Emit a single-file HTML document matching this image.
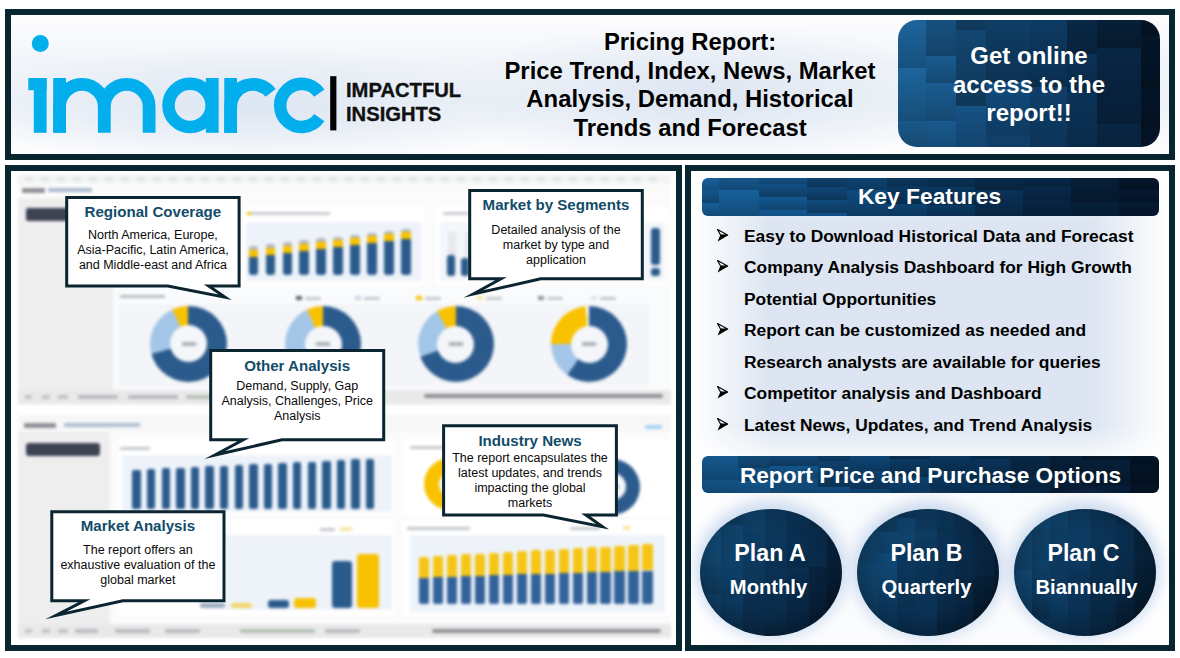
<!DOCTYPE html>
<html><head><meta charset="utf-8">
<style>

*{margin:0;padding:0;box-sizing:border-box}
html,body{width:1180px;height:658px;overflow:hidden;background:#fff;font-family:"Liberation Sans",sans-serif}
.abs{position:absolute}
.frame{position:absolute;border:6px solid #08262f}
#hdr{left:5px;top:9px;width:1170px;height:151px;background:radial-gradient(ellipse 300px 60px at 240px 92px,rgba(214,225,240,0.75),rgba(255,255,255,0)),radial-gradient(ellipse 260px 75px at 690px 82px,rgba(214,224,240,0.7),rgba(255,255,255,0)),linear-gradient(to bottom,#fdfdfe 0%,#f1f4f9 35%,#eff3f8 65%,#fdfdfe 100%)}
#lp{left:5px;top:165px;width:677px;height:486px;background:#fff;overflow:hidden}
#rp{left:685px;top:165px;width:490px;height:486px;background:linear-gradient(to right,#fff 0px,rgba(255,255,255,0) 80px,rgba(255,255,255,0) 400px,#fff 478px),linear-gradient(to bottom,#fff 0px,rgba(255,255,255,0) 50px,rgba(255,255,255,0) 255px,rgba(255,255,255,0.85) 290px,rgba(255,255,255,0.9) 474px),#dce5f1}
.title{position:absolute;left:479px;width:422px;text-align:center;font-weight:bold;font-size:23.85px;color:#000;line-height:28.8px}
.btn{position:absolute;border-radius:19px;overflow:hidden}
.btntxt{position:absolute;left:0;right:0;text-align:center;color:#fff;font-weight:bold}
.bar{position:absolute;border-radius:6px;overflow:hidden}
.kf{position:absolute;left:744px;font-weight:bold;font-size:17.4px;color:#000;white-space:nowrap}
.arr{position:absolute;left:717px;width:12px;height:13px}
.plan{position:absolute;border-radius:50%;overflow:hidden;width:142px;height:127px;top:508.5px;box-shadow:0 -3px 14px 5px rgba(175,198,230,0.6)}
.co{position:absolute;border:3px solid #0b2530;background:#fff;text-align:center}
.co h3{font-size:14.9px;color:#1a5673;font-weight:bold;white-space:nowrap}
.co p{font-size:12.4px;color:#111;line-height:15px;white-space:nowrap}
.cot{position:absolute;text-align:center;font-weight:bold;font-size:15.1px;line-height:18px;color:#124c69;white-space:nowrap}
.cob{position:absolute;text-align:center;font-size:12.5px;line-height:15px;color:#0a0a0a;white-space:nowrap}

</style></head><body>


<div id="hdr" class="frame"></div>
<div id="lp" class="frame"></div>
<div id="rp" class="frame"></div>

<svg class="abs" style="left:0;top:0" width="1180" height="160" viewBox="0 0 1180 160">
<g fill="#02aeec">
<circle cx="40.3" cy="43.5" r="8.5"/>
<rect x="28.3" y="78" width="18.3" height="12.2"/>
<rect x="33.8" y="78" width="12.8" height="54.8"/>
<rect x="53.2" y="78" width="12.8" height="54.8"/>
<rect x="205.9" y="78" width="12.7" height="54.8"/>
<rect x="224.3" y="78" width="12.7" height="54.8"/>
</g>
<g fill="none" stroke="#02aeec" stroke-width="12.8">
<path d="M59.6,132.8 V106.7 A22.35,22.35 0 0 1 104.3,106.7 V132.8"/>
<path d="M104.3,106.7 A22.35,22.35 0 0 1 149.1,106.7 V132.8"/>
<path d="M230.65,132.8 V106.7 A22.35,22.35 0 0 1 270.6,92.9"/>
</g>
<g fill="none" stroke="#02aeec" stroke-width="12.5">
<circle cx="190.1" cy="105.4" r="21.6"/>
<path d="M319.3,93.1 A21.5,21.5 0 1 0 319.3,117.7"/>
</g>
<rect x="330.2" y="76.2" width="6.2" height="54.2" fill="#000"/>
</svg>
<div class="abs" style="left:346px;top:79px;font-weight:bold;font-size:20.2px;line-height:23.5px;color:#111;letter-spacing:0px;-webkit-text-stroke:0.35px #111">IMPACTFUL<br>INSIGHTS</div>
<div class="title" style="top:27.8px">Pricing Report:<br>Price Trend, Index, News, Market<br>Analysis, Demand, Historical<br>Trends and Forecast</div>
<div class="btn" style="left:898px;top:20px;width:262px;height:127px" id="btn1"><svg class="abs" style="left:0;top:0" width="262" height="127" shape-rendering="crispEdges"><defs><linearGradient id="tg1" x1="0" y1="0" x2="0" y2="1"><stop offset="0" stop-color="#000" stop-opacity="0"/><stop offset="1" stop-color="#000" stop-opacity="0.22"/></linearGradient><radialGradient id="rg1" cx="0.5" cy="0.5" r="0.5"><stop offset="0.6" stop-color="#000" stop-opacity="0"/><stop offset="1" stop-color="#000" stop-opacity="0.00"/></radialGradient></defs><rect x="-2.0" y="-5.0" width="30.0" height="53.0" fill="#1e669f"/><rect x="-2.0" y="-5.0" width="30.0" height="53.0" fill="url(#tg1)"/><rect x="-2.0" y="48.0" width="30.0" height="53.0" fill="#1d649b"/><rect x="-2.0" y="48.0" width="30.0" height="53.0" fill="url(#tg1)"/><rect x="-2.0" y="101.0" width="30.0" height="38.0" fill="#1a5787"/><rect x="-2.0" y="101.0" width="30.0" height="38.0" fill="url(#tg1)"/><rect x="28.0" y="-17.0" width="30.0" height="53.0" fill="#185688"/><rect x="28.0" y="-17.0" width="30.0" height="53.0" fill="url(#tg1)"/><rect x="28.0" y="36.0" width="30.0" height="27.0" fill="#1a5c91"/><rect x="28.0" y="36.0" width="30.0" height="27.0" fill="url(#tg1)"/><rect x="28.0" y="63.0" width="30.0" height="38.0" fill="#1a5c92"/><rect x="28.0" y="63.0" width="30.0" height="38.0" fill="url(#tg1)"/><rect x="28.0" y="101.0" width="30.0" height="38.0" fill="#19598e"/><rect x="28.0" y="101.0" width="30.0" height="38.0" fill="url(#tg1)"/><rect x="58.0" y="-17.0" width="30.0" height="27.0" fill="#134671"/><rect x="58.0" y="-17.0" width="30.0" height="27.0" fill="url(#tg1)"/><rect x="58.0" y="10.0" width="30.0" height="76.0" fill="#134670"/><rect x="58.0" y="10.0" width="30.0" height="76.0" fill="url(#tg1)"/><rect x="58.0" y="86.0" width="30.0" height="53.0" fill="#165285"/><rect x="58.0" y="86.0" width="30.0" height="53.0" fill="url(#tg1)"/><rect x="88.0" y="-14.0" width="44.0" height="76.0" fill="#0f4069"/><rect x="88.0" y="-14.0" width="44.0" height="76.0" fill="url(#tg1)"/><rect x="88.0" y="62.0" width="44.0" height="53.0" fill="#124b7d"/><rect x="88.0" y="62.0" width="44.0" height="53.0" fill="url(#tg1)"/><rect x="88.0" y="115.0" width="44.0" height="76.0" fill="#10406a"/><rect x="88.0" y="115.0" width="44.0" height="76.0" fill="url(#tg1)"/><rect x="132.0" y="-13.0" width="37.0" height="53.0" fill="#0e3e6a"/><rect x="132.0" y="-13.0" width="37.0" height="53.0" fill="url(#tg1)"/><rect x="132.0" y="40.0" width="37.0" height="27.0" fill="#0c375e"/><rect x="132.0" y="40.0" width="37.0" height="27.0" fill="url(#tg1)"/><rect x="132.0" y="67.0" width="37.0" height="76.0" fill="#0e3e69"/><rect x="132.0" y="67.0" width="37.0" height="76.0" fill="url(#tg1)"/><rect x="169.0" y="-4.0" width="30.0" height="38.0" fill="#092a48"/><rect x="169.0" y="-4.0" width="30.0" height="38.0" fill="url(#tg1)"/><rect x="169.0" y="34.0" width="30.0" height="38.0" fill="#0b3257"/><rect x="169.0" y="34.0" width="30.0" height="38.0" fill="url(#tg1)"/><rect x="169.0" y="72.0" width="30.0" height="76.0" fill="#0b3358"/><rect x="169.0" y="72.0" width="30.0" height="76.0" fill="url(#tg1)"/><rect x="199.0" y="-10.0" width="44.0" height="38.0" fill="#07213b"/><rect x="199.0" y="-10.0" width="44.0" height="38.0" fill="url(#tg1)"/><rect x="199.0" y="28.0" width="44.0" height="76.0" fill="#082645"/><rect x="199.0" y="28.0" width="44.0" height="76.0" fill="url(#tg1)"/><rect x="199.0" y="104.0" width="44.0" height="53.0" fill="#082543"/><rect x="199.0" y="104.0" width="44.0" height="53.0" fill="url(#tg1)"/><rect x="243.0" y="-11.0" width="44.0" height="27.0" fill="#04162a"/><rect x="243.0" y="-11.0" width="44.0" height="27.0" fill="url(#tg1)"/><rect x="243.0" y="16.0" width="44.0" height="53.0" fill="#041629"/><rect x="243.0" y="16.0" width="44.0" height="53.0" fill="url(#tg1)"/><rect x="243.0" y="69.0" width="44.0" height="38.0" fill="#041529"/><rect x="243.0" y="69.0" width="44.0" height="38.0" fill="url(#tg1)"/><rect x="243.0" y="107.0" width="44.0" height="38.0" fill="#041426"/><rect x="243.0" y="107.0" width="44.0" height="38.0" fill="url(#tg1)"/></svg></div>
<div class="btntxt" style="left:898px;width:262px;top:42px;font-size:24px;line-height:28.7px">Get online<br>access to the<br>report!!</div>


<div class="bar" style="left:702px;top:178px;width:457px;height:38px"><svg class="abs" style="left:0;top:0" width="457" height="38" shape-rendering="crispEdges"><defs><linearGradient id="tg2" x1="0" y1="0" x2="0" y2="1"><stop offset="0" stop-color="#000" stop-opacity="0"/><stop offset="1" stop-color="#000" stop-opacity="0.22"/></linearGradient><radialGradient id="rg2" cx="0.5" cy="0.5" r="0.5"><stop offset="0.6" stop-color="#000" stop-opacity="0"/><stop offset="1" stop-color="#000" stop-opacity="0.00"/></radialGradient></defs><rect x="-15.0" y="-1.0" width="32.0" height="13.0" fill="#1863a0"/><rect x="-15.0" y="-1.0" width="32.0" height="13.0" fill="url(#tg2)"/><rect x="-15.0" y="12.0" width="32.0" height="13.0" fill="#15568b"/><rect x="-15.0" y="12.0" width="32.0" height="13.0" fill="url(#tg2)"/><rect x="-15.0" y="25.0" width="32.0" height="13.0" fill="#175e98"/><rect x="-15.0" y="25.0" width="32.0" height="13.0" fill="url(#tg2)"/><rect x="17.0" y="-6.0" width="40.0" height="18.0" fill="#165d96"/><rect x="17.0" y="-6.0" width="40.0" height="18.0" fill="url(#tg2)"/><rect x="17.0" y="12.0" width="40.0" height="26.0" fill="#16609b"/><rect x="17.0" y="12.0" width="40.0" height="26.0" fill="url(#tg2)"/><rect x="57.0" y="-3.0" width="48.0" height="9.0" fill="#13578f"/><rect x="57.0" y="-3.0" width="48.0" height="9.0" fill="url(#tg2)"/><rect x="57.0" y="6.0" width="48.0" height="13.0" fill="#124f82"/><rect x="57.0" y="6.0" width="48.0" height="13.0" fill="url(#tg2)"/><rect x="57.0" y="19.0" width="48.0" height="13.0" fill="#135890"/><rect x="57.0" y="19.0" width="48.0" height="13.0" fill="url(#tg2)"/><rect x="57.0" y="32.0" width="48.0" height="18.0" fill="#13578f"/><rect x="57.0" y="32.0" width="48.0" height="18.0" fill="url(#tg2)"/><rect x="105.0" y="-4.0" width="40.0" height="13.0" fill="#0e4572"/><rect x="105.0" y="-4.0" width="40.0" height="13.0" fill="url(#tg2)"/><rect x="105.0" y="9.0" width="40.0" height="13.0" fill="#0f4675"/><rect x="105.0" y="9.0" width="40.0" height="13.0" fill="url(#tg2)"/><rect x="105.0" y="22.0" width="40.0" height="13.0" fill="#0f4a7a"/><rect x="105.0" y="22.0" width="40.0" height="13.0" fill="url(#tg2)"/><rect x="105.0" y="35.0" width="40.0" height="13.0" fill="#115288"/><rect x="105.0" y="35.0" width="40.0" height="13.0" fill="url(#tg2)"/><rect x="145.0" y="-6.0" width="40.0" height="18.0" fill="#0e4879"/><rect x="145.0" y="-6.0" width="40.0" height="18.0" fill="url(#tg2)"/><rect x="145.0" y="12.0" width="40.0" height="26.0" fill="#0f4a7c"/><rect x="145.0" y="12.0" width="40.0" height="26.0" fill="url(#tg2)"/><rect x="185.0" y="-5.0" width="40.0" height="13.0" fill="#0b3b65"/><rect x="185.0" y="-5.0" width="40.0" height="13.0" fill="url(#tg2)"/><rect x="185.0" y="8.0" width="40.0" height="18.0" fill="#0a3860"/><rect x="185.0" y="8.0" width="40.0" height="18.0" fill="url(#tg2)"/><rect x="185.0" y="26.0" width="40.0" height="18.0" fill="#0c416e"/><rect x="185.0" y="26.0" width="40.0" height="18.0" fill="url(#tg2)"/><rect x="225.0" y="-4.0" width="48.0" height="13.0" fill="#09365e"/><rect x="225.0" y="-4.0" width="48.0" height="13.0" fill="url(#tg2)"/><rect x="225.0" y="9.0" width="48.0" height="18.0" fill="#09375f"/><rect x="225.0" y="9.0" width="48.0" height="18.0" fill="url(#tg2)"/><rect x="225.0" y="27.0" width="48.0" height="13.0" fill="#0a3962"/><rect x="225.0" y="27.0" width="48.0" height="13.0" fill="url(#tg2)"/><rect x="273.0" y="-6.0" width="48.0" height="18.0" fill="#082d4f"/><rect x="273.0" y="-6.0" width="48.0" height="18.0" fill="url(#tg2)"/><rect x="273.0" y="12.0" width="48.0" height="26.0" fill="#093156"/><rect x="273.0" y="12.0" width="48.0" height="26.0" fill="url(#tg2)"/><rect x="321.0" y="-4.0" width="48.0" height="13.0" fill="#072a4b"/><rect x="321.0" y="-4.0" width="48.0" height="13.0" fill="url(#tg2)"/><rect x="321.0" y="9.0" width="48.0" height="13.0" fill="#082a4c"/><rect x="321.0" y="9.0" width="48.0" height="13.0" fill="url(#tg2)"/><rect x="321.0" y="22.0" width="48.0" height="26.0" fill="#072442"/><rect x="321.0" y="22.0" width="48.0" height="26.0" fill="url(#tg2)"/><rect x="369.0" y="-2.0" width="48.0" height="26.0" fill="#061f3a"/><rect x="369.0" y="-2.0" width="48.0" height="26.0" fill="url(#tg2)"/><rect x="369.0" y="24.0" width="48.0" height="26.0" fill="#06203b"/><rect x="369.0" y="24.0" width="48.0" height="26.0" fill="url(#tg2)"/><rect x="417.0" y="-2.0" width="48.0" height="13.0" fill="#04172c"/><rect x="417.0" y="-2.0" width="48.0" height="13.0" fill="url(#tg2)"/><rect x="417.0" y="11.0" width="48.0" height="13.0" fill="#051931"/><rect x="417.0" y="11.0" width="48.0" height="13.0" fill="url(#tg2)"/><rect x="417.0" y="24.0" width="48.0" height="26.0" fill="#051930"/><rect x="417.0" y="24.0" width="48.0" height="26.0" fill="url(#tg2)"/></svg></div>
<div class="btntxt" style="left:701px;width:457px;top:181px;font-size:22.8px;line-height:30px">Key Features</div>
<svg class="arr" style="top:229px" viewBox="0 0 12 13"><path d="M0.6,0.6 L11,6.3 L3.4,5.8 Z" fill="none" stroke="#000" stroke-width="1.1" stroke-linejoin="miter"/><path d="M3.4,5.8 L11.3,6.3 L0.6,12.5 Z" fill="#000"/></svg>
<div class="kf" style="top:226px">Easy to Download Historical Data and Forecast</div>
<svg class="arr" style="top:260px" viewBox="0 0 12 13"><path d="M0.6,0.6 L11,6.3 L3.4,5.8 Z" fill="none" stroke="#000" stroke-width="1.1" stroke-linejoin="miter"/><path d="M3.4,5.8 L11.3,6.3 L0.6,12.5 Z" fill="#000"/></svg>
<div class="kf" style="top:257px">Company Analysis Dashboard for High Growth</div>
<div class="kf" style="top:289px">Potential Opportunities</div>
<svg class="arr" style="top:323px" viewBox="0 0 12 13"><path d="M0.6,0.6 L11,6.3 L3.4,5.8 Z" fill="none" stroke="#000" stroke-width="1.1" stroke-linejoin="miter"/><path d="M3.4,5.8 L11.3,6.3 L0.6,12.5 Z" fill="#000"/></svg>
<div class="kf" style="top:320px">Report can be customized as needed and</div>
<div class="kf" style="top:352px">Research analysts are available for queries</div>
<svg class="arr" style="top:386px" viewBox="0 0 12 13"><path d="M0.6,0.6 L11,6.3 L3.4,5.8 Z" fill="none" stroke="#000" stroke-width="1.1" stroke-linejoin="miter"/><path d="M3.4,5.8 L11.3,6.3 L0.6,12.5 Z" fill="#000"/></svg>
<div class="kf" style="top:383px">Competitor analysis and Dashboard</div>
<svg class="arr" style="top:418px" viewBox="0 0 12 13"><path d="M0.6,0.6 L11,6.3 L3.4,5.8 Z" fill="none" stroke="#000" stroke-width="1.1" stroke-linejoin="miter"/><path d="M3.4,5.8 L11.3,6.3 L0.6,12.5 Z" fill="#000"/></svg>
<div class="kf" style="top:415px">Latest News, Updates, and Trend Analysis</div>
<div class="bar" style="left:702px;top:456px;width:457px;height:37px"><svg class="abs" style="left:0;top:0" width="457" height="37" shape-rendering="crispEdges"><defs><linearGradient id="tg3" x1="0" y1="0" x2="0" y2="1"><stop offset="0" stop-color="#000" stop-opacity="0"/><stop offset="1" stop-color="#000" stop-opacity="0.22"/></linearGradient><radialGradient id="rg3" cx="0.5" cy="0.5" r="0.5"><stop offset="0.6" stop-color="#000" stop-opacity="0"/><stop offset="1" stop-color="#000" stop-opacity="0.00"/></radialGradient></defs><rect x="-4.0" y="-2.0" width="40.0" height="26.0" fill="#155990"/><rect x="-4.0" y="-2.0" width="40.0" height="26.0" fill="url(#tg3)"/><rect x="-4.0" y="24.0" width="40.0" height="26.0" fill="#135082"/><rect x="-4.0" y="24.0" width="40.0" height="26.0" fill="url(#tg3)"/><rect x="36.0" y="-6.0" width="32.0" height="18.0" fill="#124f81"/><rect x="36.0" y="-6.0" width="32.0" height="18.0" fill="url(#tg3)"/><rect x="36.0" y="12.0" width="32.0" height="13.0" fill="#124e7f"/><rect x="36.0" y="12.0" width="32.0" height="13.0" fill="url(#tg3)"/><rect x="36.0" y="25.0" width="32.0" height="18.0" fill="#13558a"/><rect x="36.0" y="25.0" width="32.0" height="18.0" fill="url(#tg3)"/><rect x="68.0" y="-3.0" width="48.0" height="13.0" fill="#104978"/><rect x="68.0" y="-3.0" width="48.0" height="13.0" fill="url(#tg3)"/><rect x="68.0" y="10.0" width="48.0" height="13.0" fill="#13558c"/><rect x="68.0" y="10.0" width="48.0" height="13.0" fill="url(#tg3)"/><rect x="68.0" y="23.0" width="48.0" height="26.0" fill="#114c7d"/><rect x="68.0" y="23.0" width="48.0" height="26.0" fill="url(#tg3)"/><rect x="116.0" y="-4.0" width="32.0" height="9.0" fill="#0e426e"/><rect x="116.0" y="-4.0" width="32.0" height="9.0" fill="url(#tg3)"/><rect x="116.0" y="5.0" width="32.0" height="26.0" fill="#0d406b"/><rect x="116.0" y="5.0" width="32.0" height="26.0" fill="url(#tg3)"/><rect x="116.0" y="31.0" width="32.0" height="9.0" fill="#104e82"/><rect x="116.0" y="31.0" width="32.0" height="9.0" fill="url(#tg3)"/><rect x="148.0" y="-3.0" width="40.0" height="18.0" fill="#0e4677"/><rect x="148.0" y="-3.0" width="40.0" height="18.0" fill="url(#tg3)"/><rect x="148.0" y="15.0" width="40.0" height="18.0" fill="#0d416e"/><rect x="148.0" y="15.0" width="40.0" height="18.0" fill="url(#tg3)"/><rect x="148.0" y="33.0" width="40.0" height="26.0" fill="#0d426f"/><rect x="148.0" y="33.0" width="40.0" height="26.0" fill="url(#tg3)"/><rect x="188.0" y="-6.0" width="40.0" height="9.0" fill="#0a365d"/><rect x="188.0" y="-6.0" width="40.0" height="9.0" fill="url(#tg3)"/><rect x="188.0" y="3.0" width="40.0" height="18.0" fill="#0a3961"/><rect x="188.0" y="3.0" width="40.0" height="18.0" fill="url(#tg3)"/><rect x="188.0" y="21.0" width="40.0" height="18.0" fill="#0c416f"/><rect x="188.0" y="21.0" width="40.0" height="18.0" fill="url(#tg3)"/><rect x="228.0" y="-3.0" width="40.0" height="18.0" fill="#0a3861"/><rect x="228.0" y="-3.0" width="40.0" height="18.0" fill="url(#tg3)"/><rect x="228.0" y="15.0" width="40.0" height="26.0" fill="#0a3861"/><rect x="228.0" y="15.0" width="40.0" height="26.0" fill="url(#tg3)"/><rect x="268.0" y="-6.0" width="40.0" height="9.0" fill="#09345c"/><rect x="268.0" y="-6.0" width="40.0" height="9.0" fill="url(#tg3)"/><rect x="268.0" y="3.0" width="40.0" height="26.0" fill="#093258"/><rect x="268.0" y="3.0" width="40.0" height="26.0" fill="url(#tg3)"/><rect x="268.0" y="29.0" width="40.0" height="13.0" fill="#093258"/><rect x="268.0" y="29.0" width="40.0" height="13.0" fill="url(#tg3)"/><rect x="308.0" y="-6.0" width="40.0" height="26.0" fill="#082a4b"/><rect x="308.0" y="-6.0" width="40.0" height="26.0" fill="url(#tg3)"/><rect x="308.0" y="20.0" width="40.0" height="13.0" fill="#082b4c"/><rect x="308.0" y="20.0" width="40.0" height="13.0" fill="url(#tg3)"/><rect x="308.0" y="33.0" width="40.0" height="26.0" fill="#072746"/><rect x="308.0" y="33.0" width="40.0" height="26.0" fill="url(#tg3)"/><rect x="348.0" y="0.0" width="32.0" height="18.0" fill="#06203a"/><rect x="348.0" y="0.0" width="32.0" height="18.0" fill="url(#tg3)"/><rect x="348.0" y="18.0" width="32.0" height="9.0" fill="#06233f"/><rect x="348.0" y="18.0" width="32.0" height="9.0" fill="url(#tg3)"/><rect x="348.0" y="27.0" width="32.0" height="13.0" fill="#061f39"/><rect x="348.0" y="27.0" width="32.0" height="13.0" fill="url(#tg3)"/><rect x="380.0" y="-5.0" width="48.0" height="9.0" fill="#051a30"/><rect x="380.0" y="-5.0" width="48.0" height="9.0" fill="url(#tg3)"/><rect x="380.0" y="4.0" width="48.0" height="26.0" fill="#061f39"/><rect x="380.0" y="4.0" width="48.0" height="26.0" fill="url(#tg3)"/><rect x="380.0" y="30.0" width="48.0" height="18.0" fill="#061e39"/><rect x="380.0" y="30.0" width="48.0" height="18.0" fill="url(#tg3)"/><rect x="428.0" y="-4.0" width="40.0" height="13.0" fill="#04162a"/><rect x="428.0" y="-4.0" width="40.0" height="13.0" fill="url(#tg3)"/><rect x="428.0" y="9.0" width="40.0" height="9.0" fill="#041528"/><rect x="428.0" y="9.0" width="40.0" height="9.0" fill="url(#tg3)"/><rect x="428.0" y="18.0" width="40.0" height="9.0" fill="#041326"/><rect x="428.0" y="18.0" width="40.0" height="9.0" fill="url(#tg3)"/><rect x="428.0" y="27.0" width="40.0" height="26.0" fill="#041326"/><rect x="428.0" y="27.0" width="40.0" height="26.0" fill="url(#tg3)"/></svg></div>
<div class="btntxt" style="left:702px;width:457px;top:460px;font-size:22.65px;line-height:30px">Report Price and Purchase Options</div>
<div class="plan" style="left:700px"><svg class="abs" style="left:0;top:0" width="142" height="127" shape-rendering="crispEdges"><defs><linearGradient id="tg10" x1="0" y1="0" x2="0" y2="1"><stop offset="0" stop-color="#000" stop-opacity="0"/><stop offset="1" stop-color="#000" stop-opacity="0.15"/></linearGradient><radialGradient id="rg10" cx="0.5" cy="0.5" r="0.5"><stop offset="0.6" stop-color="#000" stop-opacity="0"/><stop offset="1" stop-color="#000" stop-opacity="0.20"/></radialGradient></defs><rect x="-5.0" y="-7.0" width="26.0" height="21.0" fill="#145381"/><rect x="-5.0" y="-7.0" width="26.0" height="21.0" fill="url(#tg10)"/><rect x="-5.0" y="14.0" width="26.0" height="42.0" fill="#145586"/><rect x="-5.0" y="14.0" width="26.0" height="42.0" fill="url(#tg10)"/><rect x="-5.0" y="56.0" width="26.0" height="30.0" fill="#10446e"/><rect x="-5.0" y="56.0" width="26.0" height="30.0" fill="url(#tg10)"/><rect x="-5.0" y="86.0" width="26.0" height="42.0" fill="#0e416a"/><rect x="-5.0" y="86.0" width="26.0" height="42.0" fill="url(#tg10)"/><rect x="21.0" y="-14.0" width="22.0" height="30.0" fill="#114a75"/><rect x="21.0" y="-14.0" width="22.0" height="30.0" fill="url(#tg10)"/><rect x="21.0" y="16.0" width="22.0" height="30.0" fill="#114b78"/><rect x="21.0" y="16.0" width="22.0" height="30.0" fill="url(#tg10)"/><rect x="21.0" y="46.0" width="22.0" height="42.0" fill="#0e426c"/><rect x="21.0" y="46.0" width="22.0" height="42.0" fill="url(#tg10)"/><rect x="21.0" y="88.0" width="22.0" height="30.0" fill="#0c3b63"/><rect x="21.0" y="88.0" width="22.0" height="30.0" fill="url(#tg10)"/><rect x="21.0" y="118.0" width="22.0" height="30.0" fill="#0b385e"/><rect x="21.0" y="118.0" width="22.0" height="30.0" fill="url(#tg10)"/><rect x="43.0" y="-7.0" width="22.0" height="30.0" fill="#114c7b"/><rect x="43.0" y="-7.0" width="22.0" height="30.0" fill="url(#tg10)"/><rect x="43.0" y="23.0" width="22.0" height="60.0" fill="#0d3d65"/><rect x="43.0" y="23.0" width="22.0" height="60.0" fill="url(#tg10)"/><rect x="43.0" y="83.0" width="22.0" height="60.0" fill="#0a2f51"/><rect x="43.0" y="83.0" width="22.0" height="60.0" fill="url(#tg10)"/><rect x="65.0" y="-3.0" width="22.0" height="30.0" fill="#0e3f69"/><rect x="65.0" y="-3.0" width="22.0" height="30.0" fill="url(#tg10)"/><rect x="65.0" y="27.0" width="22.0" height="30.0" fill="#0b375e"/><rect x="65.0" y="27.0" width="22.0" height="30.0" fill="url(#tg10)"/><rect x="65.0" y="57.0" width="22.0" height="60.0" fill="#0a3154"/><rect x="65.0" y="57.0" width="22.0" height="60.0" fill="url(#tg10)"/><rect x="65.0" y="117.0" width="22.0" height="42.0" fill="#072643"/><rect x="65.0" y="117.0" width="22.0" height="42.0" fill="url(#tg10)"/><rect x="87.0" y="-13.0" width="22.0" height="30.0" fill="#0d3d67"/><rect x="87.0" y="-13.0" width="22.0" height="30.0" fill="url(#tg10)"/><rect x="87.0" y="17.0" width="22.0" height="42.0" fill="#0a3155"/><rect x="87.0" y="17.0" width="22.0" height="42.0" fill="url(#tg10)"/><rect x="87.0" y="59.0" width="22.0" height="21.0" fill="#092e50"/><rect x="87.0" y="59.0" width="22.0" height="21.0" fill="url(#tg10)"/><rect x="87.0" y="80.0" width="22.0" height="60.0" fill="#082847"/><rect x="87.0" y="80.0" width="22.0" height="60.0" fill="url(#tg10)"/><rect x="109.0" y="-2.0" width="18.0" height="60.0" fill="#0a3358"/><rect x="109.0" y="-2.0" width="18.0" height="60.0" fill="url(#tg10)"/><rect x="109.0" y="58.0" width="18.0" height="60.0" fill="#07233f"/><rect x="109.0" y="58.0" width="18.0" height="60.0" fill="url(#tg10)"/><rect x="109.0" y="118.0" width="18.0" height="21.0" fill="#051e37"/><rect x="109.0" y="118.0" width="18.0" height="21.0" fill="url(#tg10)"/><rect x="127.0" y="-14.0" width="22.0" height="42.0" fill="#0a3155"/><rect x="127.0" y="-14.0" width="22.0" height="42.0" fill="url(#tg10)"/><rect x="127.0" y="28.0" width="22.0" height="42.0" fill="#072541"/><rect x="127.0" y="28.0" width="22.0" height="42.0" fill="url(#tg10)"/><rect x="127.0" y="70.0" width="22.0" height="30.0" fill="#061e37"/><rect x="127.0" y="70.0" width="22.0" height="30.0" fill="url(#tg10)"/><rect x="127.0" y="100.0" width="22.0" height="60.0" fill="#04172d"/><rect x="127.0" y="100.0" width="22.0" height="60.0" fill="url(#tg10)"/><rect width="142" height="127" fill="url(#rg10)"/></svg></div>
<div class="plan" style="left:857px"><svg class="abs" style="left:0;top:0" width="142" height="127" shape-rendering="crispEdges"><defs><linearGradient id="tg11" x1="0" y1="0" x2="0" y2="1"><stop offset="0" stop-color="#000" stop-opacity="0"/><stop offset="1" stop-color="#000" stop-opacity="0.15"/></linearGradient><radialGradient id="rg11" cx="0.5" cy="0.5" r="0.5"><stop offset="0.6" stop-color="#000" stop-opacity="0"/><stop offset="1" stop-color="#000" stop-opacity="0.20"/></radialGradient></defs><rect x="-4.0" y="-7.0" width="26.0" height="60.0" fill="#134e7c"/><rect x="-4.0" y="-7.0" width="26.0" height="60.0" fill="url(#tg11)"/><rect x="-4.0" y="53.0" width="26.0" height="60.0" fill="#104772"/><rect x="-4.0" y="53.0" width="26.0" height="60.0" fill="url(#tg11)"/><rect x="-4.0" y="113.0" width="26.0" height="60.0" fill="#0d3e68"/><rect x="-4.0" y="113.0" width="26.0" height="60.0" fill="url(#tg11)"/><rect x="22.0" y="-7.0" width="18.0" height="30.0" fill="#114975"/><rect x="22.0" y="-7.0" width="18.0" height="30.0" fill="url(#tg11)"/><rect x="22.0" y="23.0" width="18.0" height="21.0" fill="#114a78"/><rect x="22.0" y="23.0" width="18.0" height="21.0" fill="url(#tg11)"/><rect x="22.0" y="44.0" width="18.0" height="42.0" fill="#104876"/><rect x="22.0" y="44.0" width="18.0" height="42.0" fill="url(#tg11)"/><rect x="22.0" y="86.0" width="18.0" height="60.0" fill="#0c3b63"/><rect x="22.0" y="86.0" width="18.0" height="60.0" fill="url(#tg11)"/><rect x="40.0" y="-12.0" width="18.0" height="21.0" fill="#10456f"/><rect x="40.0" y="-12.0" width="18.0" height="21.0" fill="url(#tg11)"/><rect x="40.0" y="9.0" width="18.0" height="30.0" fill="#104a78"/><rect x="40.0" y="9.0" width="18.0" height="30.0" fill="url(#tg11)"/><rect x="40.0" y="39.0" width="18.0" height="60.0" fill="#0c385e"/><rect x="40.0" y="39.0" width="18.0" height="60.0" fill="url(#tg11)"/><rect x="40.0" y="99.0" width="18.0" height="42.0" fill="#0a3256"/><rect x="40.0" y="99.0" width="18.0" height="42.0" fill="url(#tg11)"/><rect x="58.0" y="-8.0" width="22.0" height="30.0" fill="#0f426d"/><rect x="58.0" y="-8.0" width="22.0" height="30.0" fill="url(#tg11)"/><rect x="58.0" y="22.0" width="22.0" height="21.0" fill="#0d3d65"/><rect x="58.0" y="22.0" width="22.0" height="21.0" fill="url(#tg11)"/><rect x="58.0" y="43.0" width="22.0" height="30.0" fill="#0b385e"/><rect x="58.0" y="43.0" width="22.0" height="30.0" fill="url(#tg11)"/><rect x="58.0" y="73.0" width="22.0" height="60.0" fill="#0b355a"/><rect x="58.0" y="73.0" width="22.0" height="60.0" fill="url(#tg11)"/><rect x="80.0" y="-11.0" width="18.0" height="30.0" fill="#0d3f69"/><rect x="80.0" y="-11.0" width="18.0" height="30.0" fill="url(#tg11)"/><rect x="80.0" y="19.0" width="18.0" height="60.0" fill="#0a3356"/><rect x="80.0" y="19.0" width="18.0" height="60.0" fill="url(#tg11)"/><rect x="80.0" y="79.0" width="18.0" height="21.0" fill="#092e50"/><rect x="80.0" y="79.0" width="18.0" height="21.0" fill="url(#tg11)"/><rect x="80.0" y="100.0" width="18.0" height="21.0" fill="#082948"/><rect x="80.0" y="100.0" width="18.0" height="21.0" fill="url(#tg11)"/><rect x="80.0" y="121.0" width="18.0" height="30.0" fill="#072541"/><rect x="80.0" y="121.0" width="18.0" height="30.0" fill="url(#tg11)"/><rect x="98.0" y="-13.0" width="18.0" height="21.0" fill="#0b355b"/><rect x="98.0" y="-13.0" width="18.0" height="21.0" fill="url(#tg11)"/><rect x="98.0" y="8.0" width="18.0" height="21.0" fill="#0b3459"/><rect x="98.0" y="8.0" width="18.0" height="21.0" fill="url(#tg11)"/><rect x="98.0" y="29.0" width="18.0" height="42.0" fill="#092e50"/><rect x="98.0" y="29.0" width="18.0" height="42.0" fill="url(#tg11)"/><rect x="98.0" y="71.0" width="18.0" height="60.0" fill="#082745"/><rect x="98.0" y="71.0" width="18.0" height="60.0" fill="url(#tg11)"/><rect x="116.0" y="-5.0" width="22.0" height="30.0" fill="#092f51"/><rect x="116.0" y="-5.0" width="22.0" height="30.0" fill="url(#tg11)"/><rect x="116.0" y="25.0" width="22.0" height="42.0" fill="#092c4d"/><rect x="116.0" y="25.0" width="22.0" height="42.0" fill="url(#tg11)"/><rect x="116.0" y="67.0" width="22.0" height="21.0" fill="#07233e"/><rect x="116.0" y="67.0" width="22.0" height="21.0" fill="url(#tg11)"/><rect x="116.0" y="88.0" width="22.0" height="21.0" fill="#061f37"/><rect x="116.0" y="88.0" width="22.0" height="21.0" fill="url(#tg11)"/><rect x="116.0" y="109.0" width="22.0" height="42.0" fill="#051d36"/><rect x="116.0" y="109.0" width="22.0" height="42.0" fill="url(#tg11)"/><rect x="138.0" y="-10.0" width="22.0" height="30.0" fill="#082a4a"/><rect x="138.0" y="-10.0" width="22.0" height="30.0" fill="url(#tg11)"/><rect x="138.0" y="20.0" width="22.0" height="30.0" fill="#082948"/><rect x="138.0" y="20.0" width="22.0" height="30.0" fill="url(#tg11)"/><rect x="138.0" y="50.0" width="22.0" height="30.0" fill="#06203a"/><rect x="138.0" y="50.0" width="22.0" height="30.0" fill="url(#tg11)"/><rect x="138.0" y="80.0" width="22.0" height="42.0" fill="#04192f"/><rect x="138.0" y="80.0" width="22.0" height="42.0" fill="url(#tg11)"/><rect x="138.0" y="122.0" width="22.0" height="42.0" fill="#041a32"/><rect x="138.0" y="122.0" width="22.0" height="42.0" fill="url(#tg11)"/><rect width="142" height="127" fill="url(#rg11)"/></svg></div>
<div class="plan" style="left:1014px"><svg class="abs" style="left:0;top:0" width="142" height="127" shape-rendering="crispEdges"><defs><linearGradient id="tg12" x1="0" y1="0" x2="0" y2="1"><stop offset="0" stop-color="#000" stop-opacity="0"/><stop offset="1" stop-color="#000" stop-opacity="0.15"/></linearGradient><radialGradient id="rg12" cx="0.5" cy="0.5" r="0.5"><stop offset="0.6" stop-color="#000" stop-opacity="0"/><stop offset="1" stop-color="#000" stop-opacity="0.20"/></radialGradient></defs><rect x="-4.0" y="-2.0" width="22.0" height="21.0" fill="#165d92"/><rect x="-4.0" y="-2.0" width="22.0" height="21.0" fill="url(#tg12)"/><rect x="-4.0" y="19.0" width="22.0" height="42.0" fill="#124d7a"/><rect x="-4.0" y="19.0" width="22.0" height="42.0" fill="url(#tg12)"/><rect x="-4.0" y="61.0" width="22.0" height="42.0" fill="#114a77"/><rect x="-4.0" y="61.0" width="22.0" height="42.0" fill="url(#tg12)"/><rect x="-4.0" y="103.0" width="22.0" height="60.0" fill="#0d3b62"/><rect x="-4.0" y="103.0" width="22.0" height="60.0" fill="url(#tg12)"/><rect x="18.0" y="-10.0" width="18.0" height="30.0" fill="#145689"/><rect x="18.0" y="-10.0" width="18.0" height="30.0" fill="url(#tg12)"/><rect x="18.0" y="20.0" width="18.0" height="30.0" fill="#104671"/><rect x="18.0" y="20.0" width="18.0" height="30.0" fill="url(#tg12)"/><rect x="18.0" y="50.0" width="18.0" height="30.0" fill="#0e4068"/><rect x="18.0" y="50.0" width="18.0" height="30.0" fill="url(#tg12)"/><rect x="18.0" y="80.0" width="18.0" height="30.0" fill="#0d3a61"/><rect x="18.0" y="80.0" width="18.0" height="30.0" fill="url(#tg12)"/><rect x="18.0" y="110.0" width="18.0" height="30.0" fill="#0c3b63"/><rect x="18.0" y="110.0" width="18.0" height="30.0" fill="url(#tg12)"/><rect x="36.0" y="0.0" width="18.0" height="21.0" fill="#124d7c"/><rect x="36.0" y="0.0" width="18.0" height="21.0" fill="url(#tg12)"/><rect x="36.0" y="21.0" width="18.0" height="60.0" fill="#0e3e67"/><rect x="36.0" y="21.0" width="18.0" height="60.0" fill="url(#tg12)"/><rect x="36.0" y="81.0" width="18.0" height="42.0" fill="#0c3c65"/><rect x="36.0" y="81.0" width="18.0" height="42.0" fill="url(#tg12)"/><rect x="36.0" y="123.0" width="18.0" height="21.0" fill="#0a3459"/><rect x="36.0" y="123.0" width="18.0" height="21.0" fill="url(#tg12)"/><rect x="54.0" y="-8.0" width="22.0" height="60.0" fill="#0e416c"/><rect x="54.0" y="-8.0" width="22.0" height="60.0" fill="url(#tg12)"/><rect x="54.0" y="52.0" width="22.0" height="21.0" fill="#0c3961"/><rect x="54.0" y="52.0" width="22.0" height="21.0" fill="url(#tg12)"/><rect x="54.0" y="73.0" width="22.0" height="60.0" fill="#0b345a"/><rect x="54.0" y="73.0" width="22.0" height="60.0" fill="url(#tg12)"/><rect x="76.0" y="-9.0" width="26.0" height="60.0" fill="#0c3960"/><rect x="76.0" y="-9.0" width="26.0" height="60.0" fill="url(#tg12)"/><rect x="76.0" y="51.0" width="26.0" height="60.0" fill="#092e4f"/><rect x="76.0" y="51.0" width="26.0" height="60.0" fill="url(#tg12)"/><rect x="76.0" y="111.0" width="26.0" height="21.0" fill="#082948"/><rect x="76.0" y="111.0" width="26.0" height="21.0" fill="url(#tg12)"/><rect x="102.0" y="-15.0" width="18.0" height="30.0" fill="#0b355a"/><rect x="102.0" y="-15.0" width="18.0" height="30.0" fill="url(#tg12)"/><rect x="102.0" y="15.0" width="18.0" height="30.0" fill="#0b345a"/><rect x="102.0" y="15.0" width="18.0" height="30.0" fill="url(#tg12)"/><rect x="102.0" y="45.0" width="18.0" height="42.0" fill="#092c4d"/><rect x="102.0" y="45.0" width="18.0" height="42.0" fill="url(#tg12)"/><rect x="102.0" y="87.0" width="18.0" height="21.0" fill="#072440"/><rect x="102.0" y="87.0" width="18.0" height="21.0" fill="url(#tg12)"/><rect x="102.0" y="108.0" width="18.0" height="30.0" fill="#06213b"/><rect x="102.0" y="108.0" width="18.0" height="30.0" fill="url(#tg12)"/><rect x="120.0" y="0.0" width="22.0" height="42.0" fill="#082a49"/><rect x="120.0" y="0.0" width="22.0" height="42.0" fill="url(#tg12)"/><rect x="120.0" y="42.0" width="22.0" height="21.0" fill="#072643"/><rect x="120.0" y="42.0" width="22.0" height="21.0" fill="url(#tg12)"/><rect x="120.0" y="63.0" width="22.0" height="42.0" fill="#062039"/><rect x="120.0" y="63.0" width="22.0" height="42.0" fill="url(#tg12)"/><rect x="120.0" y="105.0" width="22.0" height="30.0" fill="#051e37"/><rect x="120.0" y="105.0" width="22.0" height="30.0" fill="url(#tg12)"/><rect width="142" height="127" fill="url(#rg12)"/></svg></div>
<div class="btntxt" style="left:699px;width:142px;top:541px;font-size:23.2px;line-height:25px">Plan A</div>
<div class="btntxt" style="left:697.5px;width:142px;top:576px;font-size:20.2px;line-height:22px">Monthly</div>
<div class="btntxt" style="left:855.5px;width:142px;top:541px;font-size:23.2px;line-height:25px">Plan B</div>
<div class="btntxt" style="left:855.5px;width:142px;top:576px;font-size:20.2px;line-height:22px">Quarterly</div>
<div class="btntxt" style="left:1012.5px;width:142px;top:541px;font-size:23.2px;line-height:25px">Plan C</div>
<div class="btntxt" style="left:1015.5px;width:142px;top:576px;font-size:20.2px;line-height:22px">Biannually</div>
<div id="dash" class="abs" style="left:11px;top:171px;width:665px;height:474px;overflow:hidden"><div style="position:absolute;left:0;top:0;width:665px;height:474px;filter:blur(1.8px)"><div style="position:absolute;left:0.0px;top:0.0px;width:665.0px;height:474.0px;background:#ffffff;"></div><div style="position:absolute;left:7.0px;top:3.0px;width:653.0px;height:231.0px;background:#f1f1f2;"></div><div style="position:absolute;left:7.0px;top:3.0px;width:653.0px;height:10.0px;background:#f3f4f5;"></div><div style="position:absolute;left:14.0px;top:7.0px;width:8.0px;height:2.0px;background:#d6d8db;"></div><div style="position:absolute;left:30.0px;top:7.0px;width:8.0px;height:2.0px;background:#d6d8db;"></div><div style="position:absolute;left:46.0px;top:7.0px;width:8.0px;height:2.0px;background:#d6d8db;"></div><div style="position:absolute;left:62.0px;top:7.0px;width:8.0px;height:2.0px;background:#d6d8db;"></div><div style="position:absolute;left:78.0px;top:7.0px;width:8.0px;height:2.0px;background:#d6d8db;"></div><div style="position:absolute;left:94.0px;top:7.0px;width:8.0px;height:2.0px;background:#d6d8db;"></div><div style="position:absolute;left:110.0px;top:7.0px;width:8.0px;height:2.0px;background:#d6d8db;"></div><div style="position:absolute;left:126.0px;top:7.0px;width:8.0px;height:2.0px;background:#d6d8db;"></div><div style="position:absolute;left:142.0px;top:7.0px;width:8.0px;height:2.0px;background:#d6d8db;"></div><div style="position:absolute;left:158.0px;top:7.0px;width:8.0px;height:2.0px;background:#d6d8db;"></div><div style="position:absolute;left:174.0px;top:7.0px;width:8.0px;height:2.0px;background:#d6d8db;"></div><div style="position:absolute;left:190.0px;top:7.0px;width:8.0px;height:2.0px;background:#d6d8db;"></div><div style="position:absolute;left:206.0px;top:7.0px;width:8.0px;height:2.0px;background:#d6d8db;"></div><div style="position:absolute;left:222.0px;top:7.0px;width:8.0px;height:2.0px;background:#d6d8db;"></div><div style="position:absolute;left:238.0px;top:7.0px;width:8.0px;height:2.0px;background:#d6d8db;"></div><div style="position:absolute;left:254.0px;top:7.0px;width:8.0px;height:2.0px;background:#d6d8db;"></div><div style="position:absolute;left:270.0px;top:7.0px;width:8.0px;height:2.0px;background:#d6d8db;"></div><div style="position:absolute;left:286.0px;top:7.0px;width:8.0px;height:2.0px;background:#d6d8db;"></div><div style="position:absolute;left:302.0px;top:7.0px;width:8.0px;height:2.0px;background:#d6d8db;"></div><div style="position:absolute;left:318.0px;top:7.0px;width:8.0px;height:2.0px;background:#d6d8db;"></div><div style="position:absolute;left:334.0px;top:7.0px;width:8.0px;height:2.0px;background:#d6d8db;"></div><div style="position:absolute;left:350.0px;top:7.0px;width:8.0px;height:2.0px;background:#d6d8db;"></div><div style="position:absolute;left:366.0px;top:7.0px;width:8.0px;height:2.0px;background:#d6d8db;"></div><div style="position:absolute;left:382.0px;top:7.0px;width:8.0px;height:2.0px;background:#d6d8db;"></div><div style="position:absolute;left:398.0px;top:7.0px;width:8.0px;height:2.0px;background:#d6d8db;"></div><div style="position:absolute;left:414.0px;top:7.0px;width:8.0px;height:2.0px;background:#d6d8db;"></div><div style="position:absolute;left:430.0px;top:7.0px;width:8.0px;height:2.0px;background:#d6d8db;"></div><div style="position:absolute;left:446.0px;top:7.0px;width:8.0px;height:2.0px;background:#d6d8db;"></div><div style="position:absolute;left:462.0px;top:7.0px;width:8.0px;height:2.0px;background:#d6d8db;"></div><div style="position:absolute;left:478.0px;top:7.0px;width:8.0px;height:2.0px;background:#d6d8db;"></div><div style="position:absolute;left:494.0px;top:7.0px;width:8.0px;height:2.0px;background:#d6d8db;"></div><div style="position:absolute;left:510.0px;top:7.0px;width:8.0px;height:2.0px;background:#d6d8db;"></div><div style="position:absolute;left:526.0px;top:7.0px;width:8.0px;height:2.0px;background:#d6d8db;"></div><div style="position:absolute;left:542.0px;top:7.0px;width:8.0px;height:2.0px;background:#d6d8db;"></div><div style="position:absolute;left:558.0px;top:7.0px;width:8.0px;height:2.0px;background:#d6d8db;"></div><div style="position:absolute;left:574.0px;top:7.0px;width:8.0px;height:2.0px;background:#d6d8db;"></div><div style="position:absolute;left:590.0px;top:7.0px;width:8.0px;height:2.0px;background:#d6d8db;"></div><div style="position:absolute;left:606.0px;top:7.0px;width:8.0px;height:2.0px;background:#d6d8db;"></div><div style="position:absolute;left:622.0px;top:7.0px;width:8.0px;height:2.0px;background:#d6d8db;"></div><div style="position:absolute;left:638.0px;top:7.0px;width:8.0px;height:2.0px;background:#d6d8db;"></div><div style="position:absolute;left:7.0px;top:13.0px;width:653.0px;height:14.0px;background:#fbfbfb;"></div><div style="position:absolute;left:11.0px;top:16.5px;width:23.0px;height:5.0px;background:#8e9196;border-radius:1px"></div><div style="position:absolute;left:37.0px;top:17.0px;width:44.0px;height:4.0px;background:#a9b9cc;border-radius:1px"></div><div style="position:absolute;left:7.0px;top:27.0px;width:95.0px;height:194.0px;background:#eeeeef;"></div><div style="position:absolute;left:15.0px;top:37.0px;width:42.0px;height:13.0px;background:#3d4352;border-radius:2px"></div><div style="position:absolute;left:57.0px;top:37.0px;width:44.0px;height:13.0px;background:#e3e3e5;"></div><div style="position:absolute;left:102.0px;top:27.0px;width:558.0px;height:194.0px;background:#fbfbfc;"></div><div style="position:absolute;left:232.0px;top:36.0px;width:181.0px;height:77.0px;background:#ffffff;"></div><div style="position:absolute;left:239.0px;top:40.5px;width:80.0px;height:3.0px;background:#c9cbcf;border-radius:1px"></div><div style="position:absolute;left:236.0px;top:41.0px;width:4.0px;height:3.0px;background:#f8c200;"></div><div style="position:absolute;left:235.0px;top:51.0px;width:175.0px;height:59.0px;background:#eef3fa;"></div><div style="position:absolute;left:237.6px;top:75.0px;width:9.4px;height:4.0px;background:#b4b8c0;border-radius:3px 3px 0 0"></div><div style="position:absolute;left:237.6px;top:78.5px;width:9.4px;height:7.5px;background:#f8c200;"></div><div style="position:absolute;left:237.6px;top:85.5px;width:9.4px;height:18.5px;background:#2b5b8d;border-radius:0 0 3px 3px"></div><div style="position:absolute;left:254.6px;top:73.1px;width:9.4px;height:4.0px;background:#b4b8c0;border-radius:3px 3px 0 0"></div><div style="position:absolute;left:254.6px;top:76.6px;width:9.4px;height:7.5px;background:#f8c200;"></div><div style="position:absolute;left:254.6px;top:83.6px;width:9.4px;height:20.4px;background:#2b5b8d;border-radius:0 0 3px 3px"></div><div style="position:absolute;left:271.5px;top:71.2px;width:9.4px;height:4.0px;background:#b4b8c0;border-radius:3px 3px 0 0"></div><div style="position:absolute;left:271.5px;top:74.7px;width:9.4px;height:7.5px;background:#f8c200;"></div><div style="position:absolute;left:271.5px;top:81.7px;width:9.4px;height:22.3px;background:#2b5b8d;border-radius:0 0 3px 3px"></div><div style="position:absolute;left:288.4px;top:69.3px;width:9.4px;height:4.0px;background:#b4b8c0;border-radius:3px 3px 0 0"></div><div style="position:absolute;left:288.4px;top:72.8px;width:9.4px;height:7.5px;background:#f8c200;"></div><div style="position:absolute;left:288.4px;top:79.8px;width:9.4px;height:24.2px;background:#2b5b8d;border-radius:0 0 3px 3px"></div><div style="position:absolute;left:305.4px;top:67.4px;width:9.4px;height:4.0px;background:#b4b8c0;border-radius:3px 3px 0 0"></div><div style="position:absolute;left:305.4px;top:70.9px;width:9.4px;height:7.5px;background:#f8c200;"></div><div style="position:absolute;left:305.4px;top:77.9px;width:9.4px;height:26.1px;background:#2b5b8d;border-radius:0 0 3px 3px"></div><div style="position:absolute;left:322.4px;top:65.5px;width:9.4px;height:4.0px;background:#b4b8c0;border-radius:3px 3px 0 0"></div><div style="position:absolute;left:322.4px;top:69.0px;width:9.4px;height:7.5px;background:#f8c200;"></div><div style="position:absolute;left:322.4px;top:76.0px;width:9.4px;height:28.0px;background:#2b5b8d;border-radius:0 0 3px 3px"></div><div style="position:absolute;left:339.3px;top:63.6px;width:9.4px;height:4.0px;background:#b4b8c0;border-radius:3px 3px 0 0"></div><div style="position:absolute;left:339.3px;top:67.1px;width:9.4px;height:7.5px;background:#f8c200;"></div><div style="position:absolute;left:339.3px;top:74.1px;width:9.4px;height:29.9px;background:#2b5b8d;border-radius:0 0 3px 3px"></div><div style="position:absolute;left:356.2px;top:61.7px;width:9.4px;height:4.0px;background:#b4b8c0;border-radius:3px 3px 0 0"></div><div style="position:absolute;left:356.2px;top:65.2px;width:9.4px;height:7.5px;background:#f8c200;"></div><div style="position:absolute;left:356.2px;top:72.2px;width:9.4px;height:31.8px;background:#2b5b8d;border-radius:0 0 3px 3px"></div><div style="position:absolute;left:373.2px;top:59.8px;width:9.4px;height:4.0px;background:#b4b8c0;border-radius:3px 3px 0 0"></div><div style="position:absolute;left:373.2px;top:63.3px;width:9.4px;height:7.5px;background:#f8c200;"></div><div style="position:absolute;left:373.2px;top:70.3px;width:9.4px;height:33.7px;background:#2b5b8d;border-radius:0 0 3px 3px"></div><div style="position:absolute;left:390.2px;top:57.9px;width:9.4px;height:4.0px;background:#b4b8c0;border-radius:3px 3px 0 0"></div><div style="position:absolute;left:390.2px;top:61.4px;width:9.4px;height:7.5px;background:#f8c200;"></div><div style="position:absolute;left:390.2px;top:68.4px;width:9.4px;height:35.6px;background:#2b5b8d;border-radius:0 0 3px 3px"></div><div style="position:absolute;left:425.0px;top:36.0px;width:232.0px;height:77.0px;background:#ffffff;"></div><div style="position:absolute;left:432.0px;top:40.5px;width:57.0px;height:3.0px;background:#c9cbcf;border-radius:1px"></div><div style="position:absolute;left:429.0px;top:51.0px;width:225.0px;height:59.0px;background:#f3f6fa;"></div><div style="position:absolute;left:437.0px;top:61.0px;width:8.0px;height:44.0px;background:#e6e8ec;"></div><div style="position:absolute;left:454.0px;top:61.0px;width:8.0px;height:44.0px;background:#e6e8ec;"></div><div style="position:absolute;left:471.0px;top:61.0px;width:8.0px;height:44.0px;background:#e6e8ec;"></div><div style="position:absolute;left:488.0px;top:61.0px;width:8.0px;height:44.0px;background:#e6e8ec;"></div><div style="position:absolute;left:505.0px;top:61.0px;width:8.0px;height:44.0px;background:#e6e8ec;"></div><div style="position:absolute;left:522.0px;top:61.0px;width:8.0px;height:44.0px;background:#e6e8ec;"></div><div style="position:absolute;left:539.0px;top:61.0px;width:8.0px;height:44.0px;background:#e6e8ec;"></div><div style="position:absolute;left:556.0px;top:61.0px;width:8.0px;height:44.0px;background:#e6e8ec;"></div><div style="position:absolute;left:573.0px;top:61.0px;width:8.0px;height:44.0px;background:#e6e8ec;"></div><div style="position:absolute;left:590.0px;top:61.0px;width:8.0px;height:44.0px;background:#e6e8ec;"></div><div style="position:absolute;left:607.0px;top:61.0px;width:8.0px;height:44.0px;background:#e6e8ec;"></div><div style="position:absolute;left:624.0px;top:61.0px;width:8.0px;height:44.0px;background:#e6e8ec;"></div><div style="position:absolute;left:436.0px;top:84.0px;width:8.0px;height:21.0px;background:#2b5b8d;border-radius:3px"></div><div style="position:absolute;left:450.0px;top:87.0px;width:8.0px;height:18.0px;background:#2b5b8d;border-radius:3px"></div><div style="position:absolute;left:640.0px;top:57.0px;width:9.0px;height:37.0px;background:#2b5b8d;border-radius:3px"></div><div style="position:absolute;left:640.0px;top:97.0px;width:9.0px;height:8.0px;background:#2b5b8d;border-radius:3px"></div><div style="position:absolute;left:127.0px;top:39.0px;width:98.0px;height:72.0px;background:#f7f7f8;"></div><div style="position:absolute;left:102.0px;top:117.0px;width:558.0px;height:104.0px;background:#fafbfc;"></div><div style="position:absolute;left:109.0px;top:123.5px;width:45.0px;height:3.0px;background:#b8bbc0;border-radius:1px"></div><div style="position:absolute;left:284.6px;top:125.0px;width:6.0px;height:4.0px;background:#5b6170;"></div><div style="position:absolute;left:293.6px;top:125.5px;width:16.0px;height:3.0px;background:#c4c7cc;border-radius:1px"></div><div style="position:absolute;left:343.8px;top:125.0px;width:6.0px;height:4.0px;background:#c5d6ea;"></div><div style="position:absolute;left:352.8px;top:125.5px;width:16.0px;height:3.0px;background:#c4c7cc;border-radius:1px"></div><div style="position:absolute;left:404.8px;top:125.0px;width:6.0px;height:4.0px;background:#f8c200;"></div><div style="position:absolute;left:413.8px;top:125.5px;width:16.0px;height:3.0px;background:#c4c7cc;border-radius:1px"></div><div style="position:absolute;left:465.8px;top:125.0px;width:6.0px;height:4.0px;background:#f6e7a6;"></div><div style="position:absolute;left:474.8px;top:125.5px;width:16.0px;height:3.0px;background:#c4c7cc;border-radius:1px"></div><div style="position:absolute;left:526.8px;top:125.0px;width:6.0px;height:4.0px;background:#8e9196;"></div><div style="position:absolute;left:535.8px;top:125.5px;width:16.0px;height:3.0px;background:#c4c7cc;border-radius:1px"></div><div style="position:absolute;left:580.0px;top:125.0px;width:6.0px;height:4.0px;background:#dde2ea;"></div><div style="position:absolute;left:589.0px;top:125.5px;width:16.0px;height:3.0px;background:#c4c7cc;border-radius:1px"></div><div style="position:absolute;left:107.0px;top:133.0px;width:532.0px;height:82.0px;background:#f3f5f9;"></div><div style="position:absolute;left:139.4px;top:134.6px;width:76.6px;height:76.6px;border-radius:50%;background:conic-gradient(#2b5b8d 0.0deg 255.0deg,#a3c6e8 255.0deg 335.0deg,#f8c200 335.0deg 360.0deg)"></div><div style="position:absolute;left:159.2px;top:154.4px;width:37.0px;height:37.0px;border-radius:50%;background:#f4f6fa"></div><div style="position:absolute;left:170.7px;top:170.9px;width:14.0px;height:4.0px;background:#aeb2b8;"></div><div style="position:absolute;left:274.4px;top:135.1px;width:76.0px;height:76.0px;border-radius:50%;background:conic-gradient(#2b5b8d 0.0deg 240.0deg,#a3c6e8 240.0deg 335.0deg,#f8c200 335.0deg 360.0deg)"></div><div style="position:absolute;left:293.9px;top:154.6px;width:37.0px;height:37.0px;border-radius:50%;background:#f4f6fa"></div><div style="position:absolute;left:305.4px;top:171.1px;width:14.0px;height:4.0px;background:#aeb2b8;"></div><div style="position:absolute;left:406.8px;top:135.1px;width:76.0px;height:76.0px;border-radius:50%;background:conic-gradient(#2b5b8d 0.0deg 250.0deg,#a3c6e8 250.0deg 330.0deg,#f8c200 330.0deg 360.0deg)"></div><div style="position:absolute;left:426.3px;top:154.6px;width:37.0px;height:37.0px;border-radius:50%;background:#f4f6fa"></div><div style="position:absolute;left:437.8px;top:171.1px;width:14.0px;height:4.0px;background:#aeb2b8;"></div><div style="position:absolute;left:540.3px;top:135.1px;width:76.0px;height:76.0px;border-radius:50%;background:conic-gradient(#2b5b8d 0.0deg 215.0deg,#a3c6e8 215.0deg 270.0deg,#f8c200 270.0deg 355.0deg,#ffffff 355.0deg 360.0deg)"></div><div style="position:absolute;left:559.8px;top:154.6px;width:37.0px;height:37.0px;border-radius:50%;background:#f4f6fa"></div><div style="position:absolute;left:571.3px;top:171.1px;width:14.0px;height:4.0px;background:#aeb2b8;"></div><div style="position:absolute;left:7.0px;top:219.0px;width:653.0px;height:14.0px;background:#e9e9ea;"></div><div style="position:absolute;left:14.0px;top:224.0px;width:7.0px;height:4.0px;background:#c0c2c6;border-radius:1px"></div><div style="position:absolute;left:31.0px;top:224.0px;width:8.0px;height:4.0px;background:#c0c2c6;border-radius:1px"></div><div style="position:absolute;left:47.0px;top:224.0px;width:10.0px;height:4.0px;background:#c0c2c6;border-radius:1px"></div><div style="position:absolute;left:67.0px;top:224.0px;width:40.0px;height:4.0px;background:#b9bbc0;border-radius:1px"></div><div style="position:absolute;left:117.0px;top:224.0px;width:50.0px;height:4.0px;background:#b9bbc0;border-radius:1px"></div><div style="position:absolute;left:175.0px;top:224.0px;width:54.0px;height:4.0px;background:#b5c2b5;border-radius:1px"></div><div style="position:absolute;left:413.0px;top:223.0px;width:239.0px;height:4.0px;background:#8e9094;border-radius:2px"></div><div style="position:absolute;left:7.0px;top:244.0px;width:653.0px;height:223.0px;background:#f1f1f2;"></div><div style="position:absolute;left:7.0px;top:244.0px;width:653.0px;height:17.0px;background:#f7f7f8;"></div><div style="position:absolute;left:13.0px;top:251.5px;width:32.0px;height:5.0px;background:#8e9196;border-radius:1px"></div><div style="position:absolute;left:53.0px;top:252.0px;width:76.0px;height:4.0px;background:#aebed2;border-radius:1px"></div><div style="position:absolute;left:634.0px;top:254.0px;width:17.0px;height:4.0px;background:#aad3ee;border-radius:1px"></div><div style="position:absolute;left:7.0px;top:261.0px;width:92.0px;height:193.0px;background:#eeeeef;"></div><div style="position:absolute;left:15.0px;top:272.0px;width:74.0px;height:13.0px;background:#3d4352;border-radius:3px"></div><div style="position:absolute;left:99.0px;top:261.0px;width:561.0px;height:193.0px;background:#fbfbfc;"></div><div style="position:absolute;left:107.0px;top:269.0px;width:276.0px;height:75.0px;background:#ffffff;"></div><div style="position:absolute;left:109.0px;top:275.5px;width:30.0px;height:3.0px;background:#c4c7cc;border-radius:1px"></div><div style="position:absolute;left:111.0px;top:284.0px;width:270.0px;height:57.0px;background:#eef3fa;"></div><div style="position:absolute;left:121.3px;top:298.5px;width:8.6px;height:39.5px;background:#2b5b8d;border-radius:2px"></div><div style="position:absolute;left:135.9px;top:297.8px;width:8.6px;height:40.2px;background:#2b5b8d;border-radius:2px"></div><div style="position:absolute;left:150.5px;top:297.2px;width:8.6px;height:40.8px;background:#2b5b8d;border-radius:2px"></div><div style="position:absolute;left:165.1px;top:296.5px;width:8.6px;height:41.5px;background:#2b5b8d;border-radius:2px"></div><div style="position:absolute;left:179.7px;top:295.8px;width:8.6px;height:42.2px;background:#2b5b8d;border-radius:2px"></div><div style="position:absolute;left:194.3px;top:295.1px;width:8.6px;height:42.9px;background:#2b5b8d;border-radius:2px"></div><div style="position:absolute;left:208.9px;top:294.5px;width:8.6px;height:43.5px;background:#2b5b8d;border-radius:2px"></div><div style="position:absolute;left:223.5px;top:293.8px;width:8.6px;height:44.2px;background:#2b5b8d;border-radius:2px"></div><div style="position:absolute;left:238.1px;top:293.1px;width:8.6px;height:44.9px;background:#2b5b8d;border-radius:2px"></div><div style="position:absolute;left:252.7px;top:292.5px;width:8.6px;height:45.5px;background:#2b5b8d;border-radius:2px"></div><div style="position:absolute;left:267.3px;top:291.8px;width:8.6px;height:46.2px;background:#2b5b8d;border-radius:2px"></div><div style="position:absolute;left:281.9px;top:291.1px;width:8.6px;height:46.9px;background:#2b5b8d;border-radius:2px"></div><div style="position:absolute;left:296.5px;top:290.5px;width:8.6px;height:47.5px;background:#2b5b8d;border-radius:2px"></div><div style="position:absolute;left:311.1px;top:289.8px;width:8.6px;height:48.2px;background:#2b5b8d;border-radius:2px"></div><div style="position:absolute;left:325.7px;top:289.1px;width:8.6px;height:48.9px;background:#2b5b8d;border-radius:2px"></div><div style="position:absolute;left:340.3px;top:288.4px;width:8.6px;height:49.6px;background:#2b5b8d;border-radius:2px"></div><div style="position:absolute;left:354.9px;top:287.8px;width:8.6px;height:50.2px;background:#2b5b8d;border-radius:2px"></div><div style="position:absolute;left:391.0px;top:269.0px;width:269.0px;height:75.0px;background:#ffffff;"></div><div style="position:absolute;left:399.0px;top:274.5px;width:50.0px;height:3.0px;background:#c4c7cc;border-radius:1px"></div><div style="position:absolute;left:413.0px;top:287.0px;width:52.0px;height:52.0px;border-radius:50%;background:conic-gradient(#ffffff 0.0deg 180.0deg,#f8c200 180.0deg 360.0deg)"></div><div style="position:absolute;left:427.5px;top:301.5px;width:23.0px;height:23.0px;border-radius:50%;background:#f4f6fa"></div><div style="position:absolute;left:432.0px;top:311.0px;width:14.0px;height:4.0px;background:#aeb2b8;"></div><div style="position:absolute;left:573.0px;top:287.6px;width:56.0px;height:56.0px;border-radius:50%;background:conic-gradient(#2b5b8d 0.0deg 360.0deg)"></div><div style="position:absolute;left:587.5px;top:302.1px;width:27.0px;height:27.0px;border-radius:50%;background:#f4f6fa"></div><div style="position:absolute;left:594.0px;top:313.6px;width:14.0px;height:4.0px;background:#aeb2b8;"></div><div style="position:absolute;left:107.0px;top:349.0px;width:276.0px;height:95.0px;background:#ffffff;"></div><div style="position:absolute;left:309.0px;top:356.5px;width:15.0px;height:3.0px;background:#c4c7cc;border-radius:1px"></div><div style="position:absolute;left:329.0px;top:356.0px;width:12.0px;height:4.0px;background:#f6e7a6;"></div><div style="position:absolute;left:214.0px;top:364.0px;width:167.0px;height:75.0px;background:#eef3fa;"></div><div style="position:absolute;left:189.0px;top:432.0px;width:25.0px;height:5.0px;background:#9aaac0;border-radius:2px"></div><div style="position:absolute;left:219.8px;top:432.0px;width:21.7px;height:5.0px;background:#f5d46a;border-radius:2px"></div><div style="position:absolute;left:257.3px;top:429.0px;width:20.7px;height:8.0px;background:#2b5b8d;border-radius:3px"></div><div style="position:absolute;left:283.0px;top:427.0px;width:21.7px;height:10.0px;background:#f8c200;border-radius:3px"></div><div style="position:absolute;left:320.5px;top:390.4px;width:20.8px;height:46.6px;background:#2b5b8d;border-radius:3px"></div><div style="position:absolute;left:346.2px;top:382.5px;width:21.8px;height:54.5px;background:#f8c200;border-radius:3px"></div><div style="position:absolute;left:391.0px;top:349.0px;width:269.0px;height:95.0px;background:#ffffff;"></div><div style="position:absolute;left:396.0px;top:355.5px;width:63.0px;height:3.0px;background:#c4c7cc;border-radius:1px"></div><div style="position:absolute;left:559.0px;top:355.5px;width:30.0px;height:3.0px;background:#c4c7cc;border-radius:1px"></div><div style="position:absolute;left:612.0px;top:355.0px;width:7.0px;height:4.0px;background:#f6e7a6;"></div><div style="position:absolute;left:399.0px;top:364.0px;width:255.0px;height:77.0px;background:#eef3fa;"></div><div style="position:absolute;left:407.7px;top:385.5px;width:10.4px;height:21.0px;background:#f6c514;border-radius:2px 2px 0 0"></div><div style="position:absolute;left:407.7px;top:406.5px;width:10.4px;height:26.2px;background:#32629a;border-radius:0 0 2px 2px"></div><div style="position:absolute;left:421.7px;top:384.7px;width:10.4px;height:21.3px;background:#f6c514;border-radius:2px 2px 0 0"></div><div style="position:absolute;left:421.7px;top:406.1px;width:10.4px;height:26.6px;background:#32629a;border-radius:0 0 2px 2px"></div><div style="position:absolute;left:435.7px;top:384.0px;width:10.4px;height:21.6px;background:#f6c514;border-radius:2px 2px 0 0"></div><div style="position:absolute;left:435.7px;top:405.6px;width:10.4px;height:27.1px;background:#32629a;border-radius:0 0 2px 2px"></div><div style="position:absolute;left:449.6px;top:383.2px;width:10.4px;height:22.0px;background:#f6c514;border-radius:2px 2px 0 0"></div><div style="position:absolute;left:449.6px;top:405.2px;width:10.4px;height:27.5px;background:#32629a;border-radius:0 0 2px 2px"></div><div style="position:absolute;left:463.6px;top:382.5px;width:10.4px;height:22.3px;background:#f6c514;border-radius:2px 2px 0 0"></div><div style="position:absolute;left:463.6px;top:404.7px;width:10.4px;height:28.0px;background:#32629a;border-radius:0 0 2px 2px"></div><div style="position:absolute;left:477.6px;top:381.7px;width:10.4px;height:22.6px;background:#f6c514;border-radius:2px 2px 0 0"></div><div style="position:absolute;left:477.6px;top:404.3px;width:10.4px;height:28.4px;background:#32629a;border-radius:0 0 2px 2px"></div><div style="position:absolute;left:491.6px;top:380.9px;width:10.4px;height:22.9px;background:#f6c514;border-radius:2px 2px 0 0"></div><div style="position:absolute;left:491.6px;top:403.9px;width:10.4px;height:28.8px;background:#32629a;border-radius:0 0 2px 2px"></div><div style="position:absolute;left:505.6px;top:380.2px;width:10.4px;height:23.2px;background:#f6c514;border-radius:2px 2px 0 0"></div><div style="position:absolute;left:505.6px;top:403.4px;width:10.4px;height:29.3px;background:#32629a;border-radius:0 0 2px 2px"></div><div style="position:absolute;left:519.5px;top:379.4px;width:10.4px;height:23.6px;background:#f6c514;border-radius:2px 2px 0 0"></div><div style="position:absolute;left:519.5px;top:403.0px;width:10.4px;height:29.7px;background:#32629a;border-radius:0 0 2px 2px"></div><div style="position:absolute;left:533.5px;top:378.7px;width:10.4px;height:23.9px;background:#f6c514;border-radius:2px 2px 0 0"></div><div style="position:absolute;left:533.5px;top:402.5px;width:10.4px;height:30.2px;background:#32629a;border-radius:0 0 2px 2px"></div><div style="position:absolute;left:547.5px;top:377.9px;width:10.4px;height:24.2px;background:#f6c514;border-radius:2px 2px 0 0"></div><div style="position:absolute;left:547.5px;top:402.1px;width:10.4px;height:30.6px;background:#32629a;border-radius:0 0 2px 2px"></div><div style="position:absolute;left:561.5px;top:377.1px;width:10.4px;height:24.5px;background:#f6c514;border-radius:2px 2px 0 0"></div><div style="position:absolute;left:561.5px;top:401.7px;width:10.4px;height:31.0px;background:#32629a;border-radius:0 0 2px 2px"></div><div style="position:absolute;left:575.5px;top:376.4px;width:10.4px;height:24.8px;background:#f6c514;border-radius:2px 2px 0 0"></div><div style="position:absolute;left:575.5px;top:401.2px;width:10.4px;height:31.5px;background:#32629a;border-radius:0 0 2px 2px"></div><div style="position:absolute;left:589.4px;top:375.6px;width:10.4px;height:25.2px;background:#f6c514;border-radius:2px 2px 0 0"></div><div style="position:absolute;left:589.4px;top:400.8px;width:10.4px;height:31.9px;background:#32629a;border-radius:0 0 2px 2px"></div><div style="position:absolute;left:603.4px;top:374.9px;width:10.4px;height:25.5px;background:#f6c514;border-radius:2px 2px 0 0"></div><div style="position:absolute;left:603.4px;top:400.3px;width:10.4px;height:32.4px;background:#32629a;border-radius:0 0 2px 2px"></div><div style="position:absolute;left:617.4px;top:374.1px;width:10.4px;height:25.8px;background:#f6c514;border-radius:2px 2px 0 0"></div><div style="position:absolute;left:617.4px;top:399.9px;width:10.4px;height:32.8px;background:#32629a;border-radius:0 0 2px 2px"></div><div style="position:absolute;left:631.4px;top:373.3px;width:10.4px;height:26.1px;background:#f6c514;border-radius:2px 2px 0 0"></div><div style="position:absolute;left:631.4px;top:399.5px;width:10.4px;height:33.2px;background:#32629a;border-radius:0 0 2px 2px"></div><div style="position:absolute;left:7.0px;top:453.0px;width:653.0px;height:14.0px;background:#e9e9ea;"></div><div style="position:absolute;left:14.0px;top:458.0px;width:7.0px;height:4.0px;background:#c0c2c6;border-radius:1px"></div><div style="position:absolute;left:31.0px;top:458.0px;width:8.0px;height:4.0px;background:#c0c2c6;border-radius:1px"></div><div style="position:absolute;left:47.0px;top:458.0px;width:10.0px;height:4.0px;background:#c0c2c6;border-radius:1px"></div><div style="position:absolute;left:64.0px;top:458.0px;width:23.0px;height:4.0px;background:#b9bbc0;border-radius:1px"></div><div style="position:absolute;left:104.0px;top:458.0px;width:35.0px;height:4.0px;background:#b9bbc0;border-radius:1px"></div><div style="position:absolute;left:154.0px;top:458.0px;width:35.0px;height:4.0px;background:#b9bbc0;border-radius:1px"></div><div style="position:absolute;left:229.0px;top:458.0px;width:75.0px;height:4.0px;background:#b5c2b5;border-radius:1px"></div><div style="position:absolute;left:314.0px;top:458.0px;width:35.0px;height:4.0px;background:#b9bbc0;border-radius:1px"></div><div style="position:absolute;left:421.0px;top:458.0px;width:229.0px;height:4.0px;background:#8e9094;border-radius:2px"></div></div></div>
<svg class="abs" style="left:0;top:0" width="1180" height="658"><g fill="#fff" stroke="#0b2530" stroke-width="3" stroke-miterlimit="20"><path d="M66.7,197.5 H239.1 V286.1 H208.7 L224.9,297.1 L167.8,286.1 H66.7 Z"/><path d="M469.7,190.4 H642.3 V278.8 H540.7 L473.4,294.0 L501.0,278.8 H469.7 Z"/><path d="M210.7,350.4 H383.7 V439.8 H281.9 L214.9,455.0 L243.3,439.8 H210.7 Z"/><path d="M443.6,425.7 H616.4 V515.1 H585.9 L602.4,526.6 L543.4,515.1 H443.6 Z"/><path d="M51.8,511.8 H224.0 V600.8 H122.8 L56.1,615.4 L84.3,600.8 H51.8 Z"/></g></svg>
<div class="cot" style="left:65.2px;top:202.6px;width:175.4px">Regional Coverage</div>
<div class="cob" style="left:65.2px;top:228.4px;width:175.4px">North America, Europe,<br>Asia-Pacific, Latin America,<br>and Middle-east and Africa</div>
<div class="cot" style="left:468.2px;top:195.7px;width:175.6px">Market by Segments</div>
<div class="cob" style="left:468.2px;top:223.4px;width:175.6px">Detailed analysis of the<br>market by type and<br>application</div>
<div class="cot" style="left:209.2px;top:356.7px;width:176.0px">Other Analysis</div>
<div class="cob" style="left:209.2px;top:379.4px;width:176.0px">Demand, Supply, Gap<br>Analysis, Challenges, Price<br>Analysis</div>
<div class="cot" style="left:442.1px;top:431.6px;width:175.8px">Industry News</div>
<div class="cob" style="left:442.1px;top:451.4px;width:175.8px">The report encapsulates the<br>latest updates, and trends<br>impacting the global<br>markets</div>
<div class="cot" style="left:50.3px;top:516.7px;width:175.2px">Market Analysis</div>
<div class="cob" style="left:50.3px;top:543.4px;width:175.2px">The report offers an<br>exhaustive evaluation of the<br>global market</div>
<div class="frame" style="left:5px;top:9px;width:1170px;height:151px"></div>
<div class="frame" style="left:5px;top:165px;width:677px;height:486px"></div>
<div class="frame" style="left:685px;top:165px;width:490px;height:486px"></div>

</body></html>
